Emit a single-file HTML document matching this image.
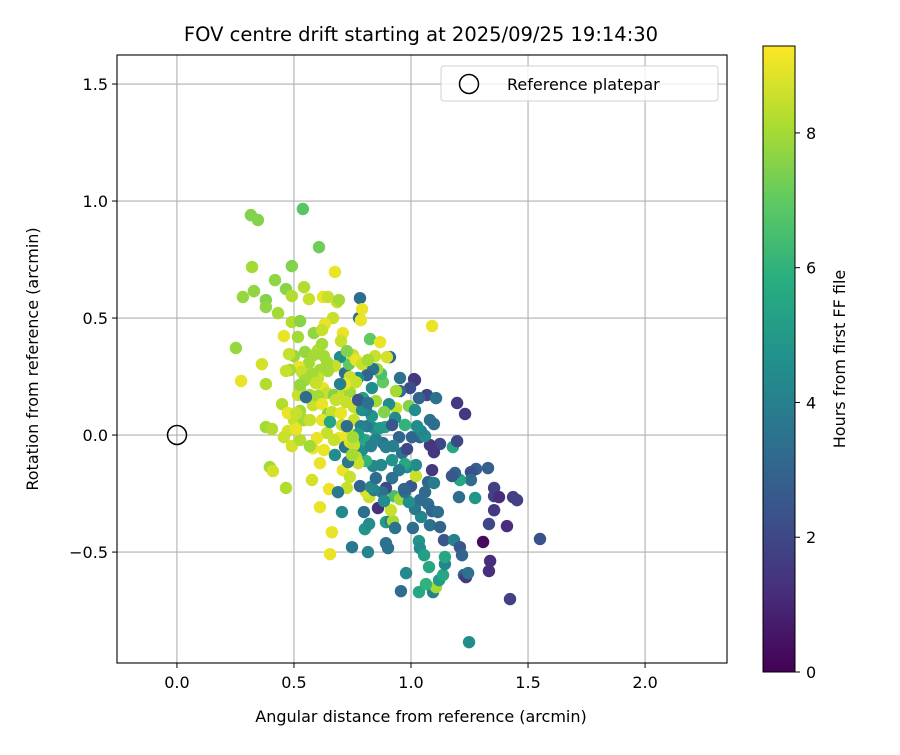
<!DOCTYPE html>
<html><head><meta charset="utf-8"><style>
body{margin:0;background:#fff}
svg text{font-family:"DejaVu Sans","Liberation Sans",sans-serif;fill:#000}
</style></head><body>
<svg id="chart" width="900" height="750" viewBox="0 0 900 750" xmlns="http://www.w3.org/2000/svg">
<defs>
<linearGradient id="vir" x1="0" y1="1" x2="0" y2="0">
<stop offset="0" stop-color="#440154"/><stop offset="0.125" stop-color="#472d7b"/><stop offset="0.25" stop-color="#3b528b"/><stop offset="0.375" stop-color="#2c728e"/><stop offset="0.5" stop-color="#21918c"/><stop offset="0.625" stop-color="#28ae80"/><stop offset="0.75" stop-color="#5ec962"/><stop offset="0.875" stop-color="#addc30"/><stop offset="1" stop-color="#fde725"/>
</linearGradient>
<clipPath id="clip"><rect x="117" y="55" width="610" height="608"/></clipPath>
</defs>
<rect x="0" y="0" width="900" height="750" fill="#fff"/>
<text x="421" y="41" font-size="19.5" text-anchor="middle">FOV centre drift starting at 2025/09/25 19:14:30</text>
<g id="grid"></g>
<g id="points" clip-path="url(#clip)"></g>
<circle cx="177" cy="435" r="9.5" fill="none" stroke="#000" stroke-width="1.5"/>
<rect x="117" y="55" width="610" height="608" fill="none" stroke="#000" stroke-width="1.1"/>
<g id="ticks"></g>
<text x="421" y="722" font-size="16" text-anchor="middle">Angular distance from reference (arcmin)</text>
<text transform="translate(38,359) rotate(-90)" font-size="16" text-anchor="middle">Rotation from reference (arcmin)</text>
<g>
<rect x="441" y="66" width="277" height="35" rx="3" fill="#fff" fill-opacity="0.8" stroke="#d0d0d0"/>
<circle cx="469" cy="84" r="9.5" fill="none" stroke="#000" stroke-width="1.5"/>
<text x="507" y="90" font-size="16">Reference platepar</text>
</g>
<rect x="763" y="46" width="32" height="626" fill="url(#vir)" stroke="#000" stroke-width="1"/>
<g id="cbticks"></g>
<text transform="translate(845,359) rotate(-90)" font-size="16" text-anchor="middle">Hours from first FF file</text>
</svg>
<script>
const xTicks=[0.0,0.5,1.0,1.5,2.0];
const xTickLabels=["0.0","0.5","1.0","1.5","2.0"];
const yTicks=[-0.5,0.0,0.5,1.0,1.5];
const yTickLabels=["\u22120.5","0.0","0.5","1.0","1.5"];
const cbTicks=[0,2,4,6,8];
const cbTickLabels=["0","2","4","6","8"];
const xs=[0.316,0.346,0.538,0.607,0.675,0.321,0.491,0.419,0.543,0.466,0.282,0.329,0.380,0.380,0.432,0.491,0.491,0.526,0.564,0.624,0.645,0.667,0.684,0.692,0.782,0.778,0.791,0.786,1.090,0.825,0.868,0.910,0.897,0.846,0.517,0.457,0.585,0.632,0.620,0.709,0.701,0.603,0.547,0.500,0.479,0.363,0.274,0.252,0.380,0.449,0.380,0.406,0.474,0.491,0.397,0.410,0.466,0.577,0.611,0.611,0.650,0.662,0.654,0.709,0.726,0.739,0.688,0.705,0.748,0.816,0.803,0.821,0.799,0.821,0.808,0.782,0.859,0.893,0.914,0.923,0.932,0.893,0.902,0.927,0.953,0.957,0.979,1.034,1.034,1.038,1.056,1.077,1.094,1.107,1.064,1.120,1.137,1.145,1.145,1.141,1.184,1.209,1.218,1.226,1.235,1.244,1.248,1.308,1.338,1.333,1.423,1.551,1.333,1.410,1.355,1.355,1.355,1.376,1.436,1.453,1.329,1.278,1.256,1.256,1.209,1.274,1.205,1.188,1.175,1.179,1.197,1.231,1.197,1.017,1.013,0.953,0.996,1.068,1.107,1.081,1.098,1.124,1.081,1.098,1.090,1.073,1.098,1.060,1.038,1.073,1.090,1.115,1.081,1.124,1.043,1.017,0.991,0.974,1.000,1.021,1.021,0.983,0.962,0.983,0.949,1.004,1.038,1.060,1.043,1.026,0.974,0.991,0.936,0.953,0.936,0.906,0.885,0.889,0.880,0.893,0.923,0.974,0.949,0.919,0.893,0.876,0.842,0.829,0.850,0.872,0.838,0.808,0.791,0.803,0.829,0.850,0.842,0.812,0.833,0.808,0.795,0.833,0.880,0.872,0.855,0.838,0.812,0.774,0.718,0.735,0.697,0.675,0.645,0.611,0.603,0.624,0.641,0.671,0.679,0.709,0.739,0.765,0.739,0.718,0.752,0.765,0.791,0.816,0.726,0.620,0.628,0.641,0.585,0.564,0.521,0.534,0.577,0.547,0.594,0.526,0.526,0.517,0.500,0.543,0.568,0.581,0.603,0.620,0.645,0.620,0.662,0.701,0.722,0.756,0.774,0.791,0.756,0.705,0.731,0.692,0.671,0.641,0.598,0.581,0.628,0.675,0.718,0.739,0.756,0.765,0.774,0.731,0.748,0.526,0.509,0.457,0.568,0.474,0.509,0.568,0.517,0.483,0.466,0.526,0.551,0.697,0.726,0.654,0.786,0.774,0.752,0.774,0.914,0.885,1.008,0.970,0.868,0.850,0.816,0.932,0.919,1.034,1.017,0.919,0.944];
const ys=[0.940,0.919,0.966,0.803,0.697,0.718,0.722,0.662,0.632,0.624,0.590,0.615,0.577,0.547,0.521,0.594,0.483,0.487,0.581,0.590,0.590,0.500,0.568,0.577,0.585,0.500,0.538,0.491,0.466,0.410,0.397,0.333,0.333,0.337,0.419,0.423,0.436,0.474,0.449,0.436,0.402,0.363,0.355,0.338,0.346,0.303,0.231,0.372,0.218,0.132,0.034,0.026,0.017,-0.047,-0.137,-0.154,-0.226,-0.192,-0.308,-0.120,-0.231,-0.415,-0.509,-0.150,-0.226,-0.179,-0.244,-0.329,-0.479,-0.500,-0.402,-0.380,-0.329,-0.265,-0.244,-0.218,-0.312,-0.372,-0.368,-0.368,-0.397,-0.462,-0.483,-0.261,-0.274,-0.667,-0.590,-0.671,-0.453,-0.483,-0.513,-0.564,-0.671,-0.650,-0.637,-0.620,-0.598,-0.551,-0.521,-0.449,-0.449,-0.479,-0.513,-0.598,-0.607,-0.590,-0.885,-0.457,-0.538,-0.581,-0.701,-0.444,-0.380,-0.389,-0.321,-0.261,-0.226,-0.265,-0.265,-0.278,-0.141,-0.145,-0.158,-0.192,-0.192,-0.269,-0.265,-0.162,-0.175,-0.051,-0.026,0.090,0.137,0.235,0.239,0.244,0.201,0.171,0.158,0.064,0.047,-0.038,-0.043,-0.073,-0.150,-0.201,-0.205,-0.244,-0.278,-0.295,-0.325,-0.329,-0.385,-0.393,-0.350,-0.316,-0.286,-0.244,-0.218,-0.175,-0.128,-0.137,-0.077,-0.060,-0.009,-0.009,-0.009,-0.004,0.017,0.038,0.043,0.124,0.115,0.188,0.188,0.132,0.098,0.034,-0.034,-0.051,-0.047,-0.124,-0.150,-0.184,-0.226,-0.244,-0.235,-0.222,-0.184,-0.128,-0.132,-0.111,-0.064,-0.021,-0.047,-0.017,0.030,0.038,0.081,0.107,0.158,0.201,0.226,0.261,0.282,0.282,0.256,0.244,0.265,0.303,0.333,0.295,0.274,0.278,0.244,0.201,0.179,0.171,0.150,0.171,0.184,0.226,0.248,0.218,0.342,0.321,0.303,0.321,0.359,0.389,0.338,0.312,0.342,0.308,0.291,0.269,0.261,0.235,0.222,0.192,0.103,0.056,0.064,0.064,0.064,0.128,0.167,0.132,0.090,0.064,0.098,0.094,0.141,0.120,0.111,0.107,0.064,0.043,0.013,-0.013,-0.021,0.009,-0.013,-0.056,-0.064,-0.085,-0.051,-0.030,-0.043,-0.094,-0.120,-0.115,-0.085,-0.021,0.026,-0.009,-0.047,0.094,0.094,0.171,0.171,0.278,0.274,0.214,0.162,0.218,0.038,0.056,0.038,0.004,-0.009,0.150,-0.321,-0.282,-0.397,-0.231,0.030,0.145,0.137,0.073,0.043,0.158,0.107,-0.107,-0.085];
const hours=[7.5,7.5,6.8,7.2,9,8,7.5,7.7,8.2,7.6,7.8,7.7,7.5,7.7,8,8.2,8.2,7.6,8.5,9,8.5,8.5,8.5,8,3.3,3.3,9,9,9,7,9,3,8.7,8.5,8,9,7.7,9,8.5,9,8.5,8.2,7.8,7.8,8.5,8.7,9,7.8,8.2,8.2,8,8.2,8.7,8.7,8,8.7,8.2,8.7,9,9,9,9,9,9,8.5,8.5,3.7,4.3,3.7,4.2,4.8,4.5,3.4,8.5,8.8,3,1.3,5,3.5,8,3.5,3.5,3.5,6.5,8,3.3,4.3,5.5,4.8,4.5,5.2,5.5,4,8,6,5,5.5,4.2,5.5,2.5,4,2.5,3,3,1.5,3.5,4.5,0.3,1.2,1.2,1.8,2.3,2,1.2,1.5,1.8,1.8,1.2,1.8,1.8,2.8,2.8,2.3,3.3,5.5,4.8,3.3,3,2.5,5.5,2,1.5,1.5,1.5,1.5,3.5,2.2,2,3.5,3.5,3.3,2,1.5,1.5,1.5,3,3.8,3.2,3.3,3.3,3,3.3,3.5,3,4.2,3.7,4.5,3.5,2.5,8.5,4.5,4.5,3.5,2,3,3,3,4.5,4.2,4.5,6,7.5,8.5,3.2,8,4.5,7.5,5.5,3.5,4,4,5.5,3.8,3.5,2,3.5,4,4.3,3.3,4.3,4.3,6,4.5,5.5,4,4,4.7,3.8,4.8,4,5.2,4.5,7,6.5,8,3.5,3,4.5,3.3,7,4.5,8.5,8,8,8.5,9,8.5,7.5,8.5,8.5,8,8.5,8.5,9,8.5,9,8.5,8,7.5,8,8,8,8,8,9,8.5,8,8,8.5,8,8,8,8.5,8,8.5,8.5,8,9,7.5,9,8.5,9,8.5,8.5,8.5,4.5,8.5,8.5,9,9,8.5,8.5,9,9,9,4.5,3.5,8.8,8.5,8.3,8.5,3.7,8,8.2,9,8.5,8,9,8.5,8,8.5,8,8.5,7.8,3.3,4,3.3,5.5,4,5,8,2.5,8.5,4.5,3.3,3,5,8,3.5,4.3,2.5,3,4.5,4.8];

const X0=117,X1=727,Y0=55,Y1=663;
const xmin=-0.256,xmax=2.350,ymin=-0.974,ymax=1.624;
const HMAX=9.29;
function sx(v){return X0+(v-xmin)/(xmax-xmin)*(X1-X0);}
function sy(v){return Y1-(v-ymin)/(ymax-ymin)*(Y1-Y0);}
function cy(h){return 672-h/HMAX*626;}
const VIR=[[68,1,84],[72,45,123],[59,82,139],[44,114,142],[33,145,140],[40,174,128],[94,201,98],[173,220,48],[253,231,37]];
function viridis(h){let t=Math.max(0,Math.min(1,h/HMAX))*(VIR.length-1);let i=Math.min(Math.floor(t),VIR.length-2);let f=t-i;let c=VIR[i].map((a,k)=>Math.round(a+(VIR[i+1][k]-a)*f));return "rgb("+c[0]+","+c[1]+","+c[2]+")";}
const NS="http://www.w3.org/2000/svg";
function mk(tag,attrs){const e=document.createElementNS(NS,tag);for(const k in attrs)e.setAttribute(k,attrs[k]);return e;}
const grid=document.getElementById('grid'),ticks=document.getElementById('ticks'),pts=document.getElementById('points'),cbt=document.getElementById('cbticks');
xTicks.forEach(function(v,i){const x=sx(v);
 const g=mk('line',{x1:x,x2:x,y1:Y0,y2:Y1,stroke:'#b0b0b0','stroke-width':1.1});
 
 grid.appendChild(g);
 const t=mk('line',{x1:x,x2:x,y1:Y1,y2:Y1+5,stroke:'#000'});
 
 ticks.appendChild(t);
 const l=mk('text',{x:x,y:Y1+25,'font-size':16,'text-anchor':'middle'});l.textContent=xTickLabels[i];
 
 ticks.appendChild(l);});
yTicks.forEach(function(v,i){const y=sy(v);
 const g=mk('line',{x1:X0,x2:X1,y1:y,y2:y,stroke:'#b0b0b0','stroke-width':1.1});
 
 grid.appendChild(g);
 const t=mk('line',{x1:X0-5,x2:X0,y1:y,y2:y,stroke:'#000'});
 
 ticks.appendChild(t);
 const l=mk('text',{x:X0-9,y:y+6,'font-size':16,'text-anchor':'end'});l.textContent=yTickLabels[i];
 
 ticks.appendChild(l);});
const n=Math.min(xs.length,ys.length,hours.length);
for(let i=0;i<n;i++){
 const c=mk('circle',{cx:sx(xs[i]),cy:sy(ys[i]),r:6.2,fill:viridis(hours[i])});
 
 pts.appendChild(c);}
cbTicks.forEach(function(v,i){const y=cy(v);
 const t=mk('line',{x1:795,x2:800,y1:y,y2:y,stroke:'#000'});
 
 cbt.appendChild(t);
 const l=mk('text',{x:806,y:y+6,'font-size':16});l.textContent=cbTickLabels[i];
 
 cbt.appendChild(l);});
</script>
</body></html>
